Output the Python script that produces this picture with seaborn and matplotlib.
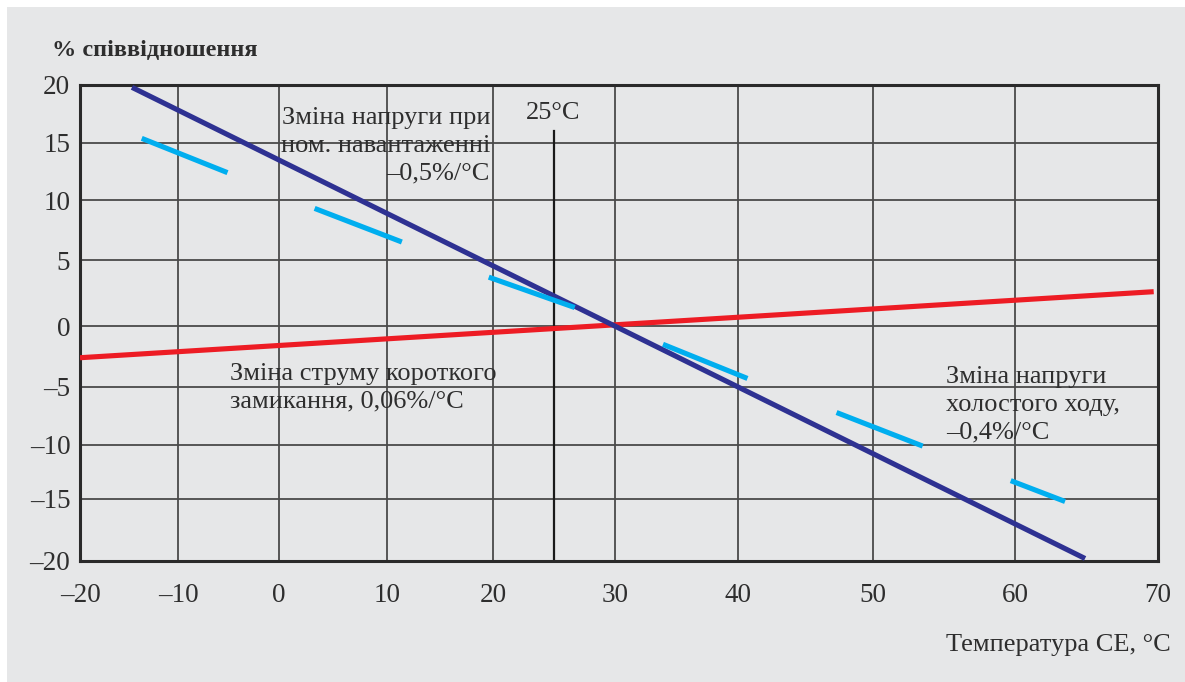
import numpy as np
import pandas as pd
import seaborn as sns
import matplotlib.pyplot as plt
from matplotlib.patches import Rectangle

# data (temperature in C, % change)
load_x = [-14.7, 64.9]          # voltage at nominal load, -0.5%/C
load_y = [19.8, -19.8]
isc_x = [-20.0, 69.7]           # short circuit current, 0.06%/C
isc_y = [-2.6, 2.6]
voc_x0 = [-13.7, 3.3, 19.6, 33.9, 47.3, 59.7]   # open circuit voltage pieces, -0.4%/C
voc_y0 = [15.4, 9.3, 3.7, -1.5, -7.2, -13.3]
voc_x1 = [-5.1, 11.4, 26.7, 40.7, 53.5, 63.5]
voc_y1 = [12.4, 6.5, 1.4, -4.3, -10.1, -15.2]
ref_x = [25, 25]                # 25C reference mark
ref_y = [-20, 16]

x_ticks = [-20, -10, 0, 10, 20, 30, 40, 50, 60, 70]
y_ticks = [-20, -15, -10, -5, 0, 5, 10, 15, 20]

# the printed grid is not evenly spaced, so map ticks to where they sit (px)
X_PIX = [80, 178, 279, 387, 493, 615, 738, 873, 1015, 1158]
Y_PIX = [561, 499, 445, 387, 326, 260, 200, 143, 85]

W, H = 1185, 682
BG = '#e6e7e8'
INK = '#2e2e2e'
FS = 19


def piecewise(src, dst):
    src = np.asarray(src, float)
    dst = np.asarray(dst, float)
    k0 = (dst[1] - dst[0]) / (src[1] - src[0])
    k1 = (dst[-1] - dst[-2]) / (src[-1] - src[-2])

    def f(v):
        v = np.asarray(v, float)
        out = np.interp(v, src, dst)
        out = np.where(v < src[0], dst[0] + (v - src[0]) * k0, out)
        out = np.where(v > src[-1], dst[-1] + (v - src[-1]) * k1, out)
        return out
    return f


def fig_xy(px, py):
    return px / W, 1 - py / H


def dash(v):
    return str(v).replace('-', '\u2013')


plt.rcParams['font.family'] = ['Liberation Serif', 'DejaVu Serif']

fig = plt.figure(figsize=(W / 100, H / 100), dpi=100)
fig.patch.set_facecolor('white')
fig.add_artist(Rectangle((7 / W, 0), 1, (H - 7) / H, transform=fig.transFigure,
                         facecolor=BG, edgecolor='none', zorder=-10))

ax = fig.add_axes([80 / W, 1 - 561 / H, (1158 - 80) / W, (561 - 85) / H])
ax.set_facecolor(BG)

ax.set_xscale('function', functions=(piecewise(x_ticks, X_PIX), piecewise(X_PIX, x_ticks)))
ypx = [-p for p in Y_PIX]
ax.set_yscale('function', functions=(piecewise(y_ticks, ypx), piecewise(ypx, y_ticks)))

sns.lineplot(x=isc_x, y=isc_y, ax=ax, color='#ed1c24', lw=3.7, solid_capstyle='butt', zorder=3)
sns.lineplot(x=load_x, y=load_y, ax=ax, color='#2e3192', lw=3.7, solid_capstyle='butt', zorder=4)

seg = pd.DataFrame({'x': voc_x0 + voc_x1, 'y': voc_y0 + voc_y1,
                    'seg': list(range(len(voc_x0))) * 2})
sns.lineplot(data=seg, x='x', y='y', units='seg', estimator=None, sort=False, ax=ax,
             color='#00aeef', lw=3.7, solid_capstyle='butt', zorder=5)

ax.plot(ref_x, ref_y, color='#1a1a1a', lw=1.6, zorder=2)

ax.set_xlim(x_ticks[0], x_ticks[-1])
ax.set_ylim(y_ticks[0], y_ticks[-1])
ax.set_xticks(x_ticks, [dash(v) for v in x_ticks])
ax.set_yticks(y_ticks, [dash(v) for v in y_ticks])
ax.tick_params(length=0, labelsize=19.5, labelcolor=INK)
ax.tick_params(axis='x', pad=16)
ax.tick_params(axis='y', pad=7)
ax.grid(True, color='#4a4a4a', lw=1.3)
ax.set_axisbelow(True)
ax.set_xlabel('')
ax.set_ylabel('')
for s in ax.spines.values():
    s.set_color('#2a2a2a')
    s.set_linewidth(2.2)

fig.text(*fig_xy(52, 50), '% співвідношення', fontsize=17.5, fontweight='bold',
         color=INK, ha='left', va='center')
fig.text(*fig_xy(1171, 645), 'Температура СЕ, °С', fontsize=FS, color=INK,
         ha='right', va='center')
fig.text(*fig_xy(553, 113), '25°C', fontsize=FS, color=INK, ha='center', va='center')
fig.text(*fig_xy(490, 146), 'Зміна напруги при\nном. навантаженні\n–0,5%/°C', fontsize=FS,
         color=INK, ha='right', va='center', multialignment='right', linespacing=1.33)
fig.text(*fig_xy(230, 388), 'Зміна струму короткого\nзамикання, 0,06%/°C', fontsize=FS,
         color=INK, ha='left', va='center', linespacing=1.33)
fig.text(*fig_xy(946, 405), 'Зміна напруги\nхолостого ходу,\n–0,4%/°C', fontsize=FS,
         color=INK, ha='left', va='center', linespacing=1.33)

fig.savefig('out.png', dpi=100)
